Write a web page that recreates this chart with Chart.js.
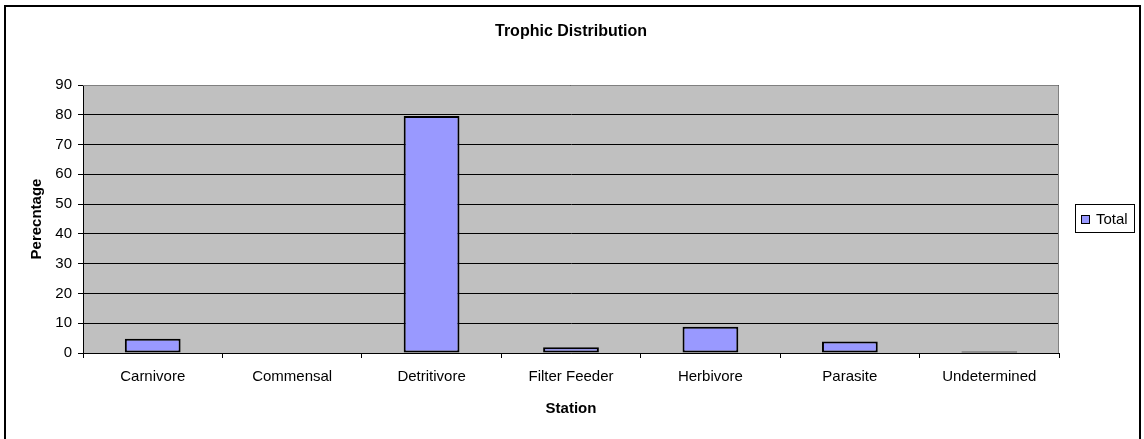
<!DOCTYPE html>
<html>
<head>
<meta charset="utf-8">
<title>Trophic Distribution</title>
<script src="https://cdn.jsdelivr.net/npm/chart.js@4"></script>
<style>
  html, body { margin: 0; padding: 0; background: #ffffff; }
  canvas { display: block; }
</style>
</head>
<body>
<canvas id="chart" width="1144" height="439"></canvas>
<script>
// Trophic groups along the category axis
const categories = ['Carnivore', 'Commensal', 'Detritivore', 'Filter Feeder', 'Herbivore', 'Parasite', 'Undetermined'];
// Share of the total for each group (percent)
const totals = [4.8, 0, 79.6, 1.9, 8.8, 3.9, 0.5];
const seriesName = 'Total';
// Value axis range and tick step
const yMin = 0;
const yMax = 90;
const yStep = 10;

const chartTitle = 'Trophic Distribution';
const xTitle = 'Station';
const yTitle = 'Perecntage';

const FONT = "'Liberation Sans', Arial, Helvetica, sans-serif";
const BAR_FILL = '#9999FF';
Chart.defaults.font.family = FONT;
Chart.defaults.color = '#000000';

// Grey plot background, frame, title and boxed legend
const decorations = {
  id: 'decorations',
  beforeDraw(chart) {
    const { ctx, chartArea: a } = chart;
    ctx.save();
    ctx.fillStyle = '#C0C0C0';
    ctx.fillRect(a.left, a.top, a.right - a.left, a.bottom - a.top);
    ctx.restore();
  },
  afterDraw(chart) {
    const { ctx, chartArea: a } = chart;
    ctx.save();
    // top and right edges of the plot area
    ctx.strokeStyle = '#808080';
    ctx.lineWidth = 1;
    ctx.beginPath();
    ctx.moveTo(a.left, a.top + 0.5);
    ctx.lineTo(a.right - 0.5, a.top + 0.5);
    ctx.lineTo(a.right - 0.5, a.bottom);
    ctx.stroke();

    // outer frame of the chart
    ctx.strokeStyle = '#000000';
    ctx.lineWidth = 2;
    ctx.strokeRect(5, 6, 1135, 460);

    // chart title, centred over the plot area
    ctx.fillStyle = '#000000';
    ctx.font = 'bold 16px ' + FONT;
    ctx.textAlign = 'center';
    ctx.textBaseline = 'middle';
    ctx.fillText(chartTitle, (a.left + a.right) / 2, 32);

    // legend
    const cy = (a.top + a.bottom) / 2;
    ctx.lineWidth = 1;
    ctx.strokeStyle = '#000000';
    ctx.fillStyle = '#ffffff';
    ctx.fillRect(1075.5, cy - 14.5, 59, 28);
    ctx.strokeRect(1075.5, cy - 14.5, 59, 28);
    ctx.fillStyle = chart.data.datasets[0].backgroundColor;
    ctx.fillRect(1081.5, cy - 3.5, 8, 8);
    ctx.strokeRect(1081.5, cy - 3.5, 8, 8);
    ctx.fillStyle = '#000000';
    ctx.font = '15px ' + FONT;
    ctx.textAlign = 'left';
    ctx.textBaseline = 'middle';
    ctx.fillText(chart.data.datasets[0].label, 1096, cy + 1);
    ctx.restore();
  }
};

new Chart(document.getElementById('chart'), {
  type: 'bar',
  data: {
    labels: categories,
    datasets: [{
      label: seriesName,
      data: totals,
      backgroundColor: BAR_FILL,
      borderColor: '#000000',
      borderWidth: 2,
      borderSkipped: false,
      barPercentage: 0.4,
      categoryPercentage: 1.0
    }]
  },
  options: {
    responsive: false,
    animation: false,
    layout: { padding: { left: 0, right: 85, top: 85, bottom: 0 } },
    plugins: {
      legend: { display: false },
      title: { display: false },
      tooltip: { enabled: false }
    },
    scales: {
      x: {
        offset: true,
        grid: {
          display: true,
          offset: true,
          drawOnChartArea: false,
          drawTicks: true,
          tickLength: 5,
          color: '#000000',
          lineWidth: 1
        },
        border: { display: true, color: '#000000', width: 1 },
        ticks: { font: { size: 15 }, color: '#000000', padding: 10, maxRotation: 0, autoSkip: false },
        title: { display: true, text: xTitle, font: { size: 15, weight: 'bold' }, color: '#000000', padding: { top: 0, bottom: 21 } },
        afterFit(scale) { scale.height = 86; }
      },
      y: {
        min: yMin,
        max: yMax,
        ticks: { stepSize: yStep, font: { size: 15 }, color: '#000000', padding: 6 },
        grid: {
          color: '#000000',
          lineWidth: 1,
          drawTicks: true,
          tickLength: 5
        },
        border: { display: true, color: '#000000', width: 1 },
        title: { display: true, text: yTitle, font: { size: 15, weight: 'bold' }, color: '#000000', padding: { top: 28, bottom: 0 } },
        afterFit(scale) { scale.width = 83; }
      }
    }
  },
  plugins: [decorations]
});
</script>
</body>
</html>
